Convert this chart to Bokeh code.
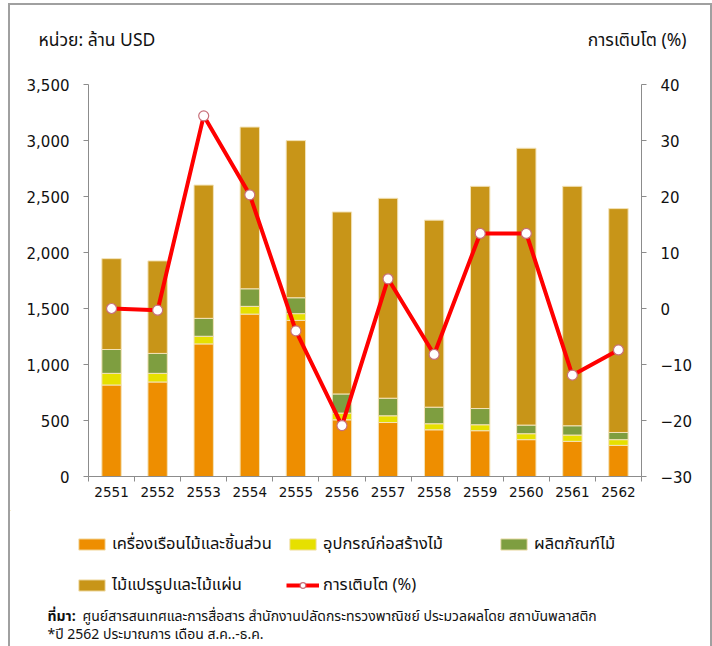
from bokeh.plotting import figure
from bokeh.models import (ColumnDataSource, Range1d, LinearAxis, FixedTicker, NumeralTickFormatter,
                          Legend, LegendItem)
from bokeh.layouts import column
from bokeh.core.properties import value
from bokeh.embed import file_html
from bokeh.resources import INLINE

years = ["2551", "2552", "2553", "2554", "2555", "2556", "2557", "2558", "2559", "2560", "2561", "2562"]
furniture = [817, 844, 1184, 1450, 1394, 506, 482, 417, 409, 329, 314, 278]
construction = [104, 77, 68, 69, 60, 60, 60, 54, 53, 53, 56, 51]
wood_products = [213, 178, 160, 157, 142, 171, 157, 148, 145, 77, 83, 64]
sawn_wood = [811, 826, 1190, 1444, 1403, 1625, 1785, 1670, 1984, 2472, 2138, 1999]
growth = [0.0, -0.3, 34.4, 20.3, -4.0, -20.9, 5.3, -8.2, 13.4, 13.4, -11.9, -7.4]

left_ticks = [0, 500, 1000, 1500, 2000, 2500, 3000, 3500]
right_ticks = [-30, -20, -10, 0, 10, 20, 30, 40]

series = ["furniture", "construction", "wood_products", "sawn_wood"]
series_labels = ["เครื่องเรือนไม้และชิ้นส่วน", "อุปกรณ์ก่อสร้างไม้", "ผลิตภัณฑ์ไม้", "ไม้แปรรูปและไม้แผ่น"]
growth_label = "การเติบโต (%)"
left_title = "หน่วย: ล้าน USD"
right_title = "การเติบโต (%)"
source_head = "ที่มา:"
source_text = "ศูนย์สารสนเทศและการสื่อสาร  สำนักงานปลัดกระทรวงพาณิชย์   ประมวลผลโดย สถาบันพลาสติก"
note_text = "*ปี 2562 ประมาณการ เดือน ส.ค..-ธ.ค."
colors = ["#EE8E00", "#E6E000", "#7E9E40", "#C89518"]

FONT = "DejaVu Sans"
THAI = "Tahoma, 'Noto Sans Thai', 'Noto Sans', sans-serif"
GRAY = "#8c8c8c"
BORDER = "#a0a0a0"
W = 700

x = list(range(1, len(years) + 1))
src = ColumnDataSource(dict(x=x, furniture=furniture, construction=construction,
                            wood_products=wood_products, sawn_wood=sawn_wood, growth=growth))


def blank(height):
    f = figure(width=W, height=height, output_backend="svg", toolbar_location=None,
               x_axis_type=None, y_axis_type=None, x_range=Range1d(0, W), y_range=Range1d(height, 0),
               min_border=0)
    f.outline_line_color = None
    f.grid.visible = False
    try:
        f.frame_align = False
    except Exception:
        pass
    return f


# ---- header ----
HEAD_H = 63
head = blank(HEAD_H)
head.text(x=[28], y=[35], text=[left_title], text_font=value(THAI), text_font_size="17.5px",
          text_baseline="middle", text_align="left", text_color="#111111")
head.text(x=[676], y=[35], text=[right_title], text_font=value(THAI), text_font_size="17.5px",
          text_baseline="middle", text_align="right", text_color="#111111")

# ---- main chart ----
p = figure(width=W, height=442, output_backend="svg", toolbar_location=None,
           x_range=Range1d(0.5, 12.5), y_range=Range1d(0, 3500),
           min_border_left=78, min_border_right=69, min_border_top=16, min_border_bottom=34)
p.outline_line_color = None
p.grid.visible = False
try:
    p.frame_align = False
except Exception:
    pass

bars = p.vbar_stack(series, x="x", width=0.42, color=colors, source=src,
                    line_color="#f3e3b8", line_width=1)

p.extra_y_ranges = {"g": Range1d(-30, 40)}
ln = p.line("x", "growth", source=src, y_range_name="g", color="#FF0000", line_width=4)
sc = p.scatter("x", "growth", source=src, y_range_name="g", size=10,
               fill_color="white", line_color="#c8707a", line_width=1.2)

xa = p.xaxis[0]
xa.ticker = FixedTicker(ticks=x, minor_ticks=[i + 0.5 for i in range(0, 13)])
xa.major_label_overrides = {i: y for i, y in zip(x, years)}
xa.major_tick_out = 0
xa.major_tick_in = 0
xa.minor_tick_out = 5
xa.minor_tick_in = 0
xa.minor_tick_line_color = GRAY
xa.axis_line_color = GRAY
xa.major_label_standoff = 5
xa.major_label_text_font_size = "13.5px"

ya = p.yaxis[0]
ya.ticker = FixedTicker(ticks=left_ticks)
ya.formatter = NumeralTickFormatter(format="0,0")
ya.minor_tick_line_color = None
ya.major_tick_out = 5
ya.major_tick_in = 0
ya.major_tick_line_color = GRAY
ya.axis_line_color = GRAY
ya.major_label_standoff = 14
ya.major_label_text_font_size = "15px"

ra = LinearAxis(y_range_name="g", ticker=FixedTicker(ticks=right_ticks))
ra.minor_tick_line_color = None
ra.major_tick_out = 5
ra.major_tick_in = 0
ra.major_tick_line_color = GRAY
ra.axis_line_color = GRAY
ra.major_label_standoff = 14
ra.major_label_text_font_size = "15px"
p.add_layout(ra, "right")

for ax in (xa, ya, ra):
    ax.major_label_text_font = FONT
    ax.major_label_text_color = "#111111"

# ---- footer with legend and source notes ----
FOOT_H = 136
foot = blank(FOOT_H)
# legend sample glyphs: a single point placed outside the visible footer area
far = ColumnDataSource(dict(x=[-1000], top=[-1000], y=[-1000]))
leg_r = [foot.vbar(x="x", top="top", width=0.4, source=far, fill_color=c, line_color="#f3e3b8")
         for c in colors]
leg_l = foot.line(x="x", y="y", source=far, color="#FF0000", line_width=4)
leg_s = foot.scatter(x="x", y="y", source=far, size=10, fill_color="white",
                     line_color="#c8707a", line_width=1.2)
items = [LegendItem(label=lab, renderers=[r], index=0) for lab, r in zip(series_labels, leg_r)]
items.append(LegendItem(label=growth_label, renderers=[leg_l, leg_s], index=0))
leg = Legend(items=items, location=(65, 44), orientation="horizontal", ncols=3,
             glyph_width=33, glyph_height=14, label_height=35, label_width=168,
             label_standoff=4, spacing=6, padding=0, margin=0,
             border_line_alpha=0, background_fill_alpha=0,
             label_text_font=THAI, label_text_font_size="16.5px", label_text_color="#111111")
foot.add_layout(leg)

foot.text(x=[37], y=[106], text=[source_head], text_font=value(THAI), text_font_size="14px",
          text_font_style="bold", text_baseline="middle", text_color="#111111")
foot.text(x=[72], y=[106], text=[source_text], text_font=value(THAI), text_font_size="14px",
          text_baseline="middle", text_color="#111111")
foot.text(x=[37], y=[124], text=[note_text], text_font=value(THAI), text_font_size="14px",
          text_baseline="middle", text_color="#111111")

layout = column(head, p, foot, spacing=0, margin=(3, 0, 0, 8),
                styles={"border-left": f"2px solid {BORDER}", "border-right": f"2px solid {BORDER}",
                        "border-top": f"2px solid {BORDER}"})

open("out.html", "w").write(file_html(layout, INLINE))
